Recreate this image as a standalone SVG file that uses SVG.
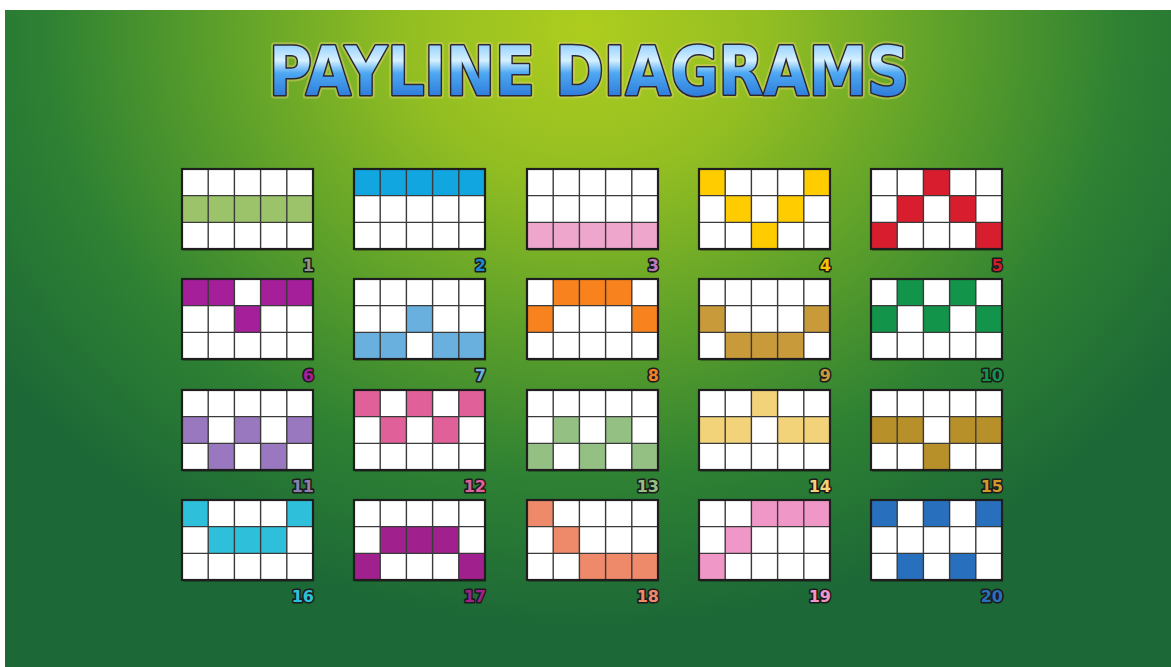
<svg xmlns="http://www.w3.org/2000/svg" xmlns:xlink="http://www.w3.org/1999/xlink" width="1171" height="667" viewBox="0 0 1171 667">
<defs>
<radialGradient id="bgG" gradientUnits="userSpaceOnUse" cx="585" cy="30" r="600" gradientTransform="translate(585 30) scale(1.2 1) translate(-585 -30)">
<stop offset="0" stop-color="#aecd1e"/>
<stop offset="0.25" stop-color="#93be22"/>
<stop offset="0.5" stop-color="#5ea12a"/>
<stop offset="0.75" stop-color="#2e8133"/>
<stop offset="1" stop-color="#1c6837"/>
</radialGradient>
<linearGradient id="titleG" x1="0" y1="0" x2="0" y2="1">
<stop offset="0" stop-color="#62b6ff"/>
<stop offset="0.36" stop-color="#d6f1ff"/>
<stop offset="0.52" stop-color="#4ea8f2"/>
<stop offset="1" stop-color="#1a60cc"/>
</linearGradient>
<g id="gl">
<path d="M26.2 0V80M52.4 0V80M78.6 0V80M104.8 0V80M0 26.67H131M0 53.33H131" fill="none" stroke="#3a3a3a" stroke-width="1.4"/>
<rect x="0" y="0" width="131" height="80" fill="none" stroke="#1e1e1e" stroke-width="2.2"/>
</g>
<rect id="sh" x="1" y="2" width="131" height="80" fill="#000" opacity="0.25"/>
</defs>
<style>
.bg{fill:#ffffff}
.lbl{font-family:"DejaVu Sans",Verdana,sans-serif;font-weight:bold;font-size:16px;text-anchor:end;stroke:#1c1c1c;stroke-width:3.2px;paint-order:stroke;stroke-linejoin:round}
</style>
<rect x="0" y="0" width="1171" height="667" fill="#ffffff"/>
<rect x="5" y="10" width="1166" height="657" fill="url(#bgG)"/>
<g id="title">
<text x="589" y="95" font-family="'DejaVu Sans Condensed','DejaVu Sans',sans-serif" font-weight="bold" font-size="68" text-anchor="middle" textLength="640" lengthAdjust="spacingAndGlyphs" fill="none" stroke="#d8cf6a" stroke-width="7" stroke-linejoin="round" opacity="0.5">PAYLINE DIAGRAMS</text>
<text x="589" y="95" font-family="'DejaVu Sans Condensed','DejaVu Sans',sans-serif" font-weight="bold" font-size="68" text-anchor="middle" textLength="640" lengthAdjust="spacingAndGlyphs" fill="url(#titleG)" stroke="#2a2634" stroke-width="3" stroke-linejoin="round" paint-order="stroke">PAYLINE DIAGRAMS</text>
</g>
<g id="connectors"/>
<g id="line1" transform="translate(182,169)"><use href="#sh"/><rect class="bg" width="131" height="80"/><g fill="#9dc36a"><rect x="0" y="26.67" width="131" height="26.67"/></g><use href="#gl"/><text class="lbl" x="132" y="102" fill="#8a9a80">1</text></g>
<g id="line2" transform="translate(354,169)"><use href="#sh"/><rect class="bg" width="131" height="80"/><g fill="#12a6e0"><rect x="0" y="0" width="131" height="26.67"/></g><use href="#gl"/><text class="lbl" x="132" y="102" fill="#1e8ad0">2</text></g>
<g id="line3" transform="translate(527,169)"><use href="#sh"/><rect class="bg" width="131" height="80"/><g fill="#eea6cc"><rect x="0" y="53.33" width="131" height="26.67"/></g><use href="#gl"/><text class="lbl" x="132" y="102" fill="#c07ab8">3</text></g>
<g id="line4" transform="translate(699,169)"><use href="#sh"/><rect class="bg" width="131" height="80"/><g fill="#ffcc00"><rect x="0" y="0" width="26.2" height="26.67"/><rect x="26.2" y="26.67" width="26.2" height="26.67"/><rect x="52.4" y="53.33" width="26.2" height="26.67"/><rect x="78.6" y="26.67" width="26.2" height="26.67"/><rect x="104.8" y="0" width="26.2" height="26.67"/></g><use href="#gl"/><text class="lbl" x="132" y="102" fill="#f2c400">4</text></g>
<g id="line5" transform="translate(871,169)"><use href="#sh"/><rect class="bg" width="131" height="80"/><g fill="#d81e2e"><rect x="0" y="53.33" width="26.2" height="26.67"/><rect x="26.2" y="26.67" width="26.2" height="26.67"/><rect x="52.4" y="0" width="26.2" height="26.67"/><rect x="78.6" y="26.67" width="26.2" height="26.67"/><rect x="104.8" y="53.33" width="26.2" height="26.67"/></g><use href="#gl"/><text class="lbl" x="132" y="102" fill="#d01e2a">5</text></g>
<g id="line6" transform="translate(182,279)"><use href="#sh"/><rect class="bg" width="131" height="80"/><g fill="#a51e9a"><rect x="0" y="0" width="52.4" height="26.67"/><rect x="52.4" y="26.67" width="26.2" height="26.67"/><rect x="78.6" y="0" width="52.4" height="26.67"/></g><use href="#gl"/><text class="lbl" x="132" y="102" fill="#a51e9a">6</text></g>
<g id="line7" transform="translate(354,279)"><use href="#sh"/><rect class="bg" width="131" height="80"/><g fill="#6ab0de"><rect x="0" y="53.33" width="52.4" height="26.67"/><rect x="52.4" y="26.67" width="26.2" height="26.67"/><rect x="78.6" y="53.33" width="52.4" height="26.67"/></g><use href="#gl"/><text class="lbl" x="132" y="102" fill="#6ab0de">7</text></g>
<g id="line8" transform="translate(527,279)"><use href="#sh"/><rect class="bg" width="131" height="80"/><g fill="#f7821e"><rect x="0" y="26.67" width="26.2" height="26.67"/><rect x="26.2" y="0" width="78.6" height="26.67"/><rect x="104.8" y="26.67" width="26.2" height="26.67"/></g><use href="#gl"/><text class="lbl" x="132" y="102" fill="#f0802a">8</text></g>
<g id="line9" transform="translate(699,279)"><use href="#sh"/><rect class="bg" width="131" height="80"/><g fill="#c89a3a"><rect x="0" y="26.67" width="26.2" height="26.67"/><rect x="26.2" y="53.33" width="78.6" height="26.67"/><rect x="104.8" y="26.67" width="26.2" height="26.67"/></g><use href="#gl"/><text class="lbl" x="132" y="102" fill="#c89a3a">9</text></g>
<g id="line10" transform="translate(871,279)"><use href="#sh"/><rect class="bg" width="131" height="80"/><g fill="#12944a"><rect x="0" y="26.67" width="26.2" height="26.67"/><rect x="26.2" y="0" width="26.2" height="26.67"/><rect x="52.4" y="26.67" width="26.2" height="26.67"/><rect x="78.6" y="0" width="26.2" height="26.67"/><rect x="104.8" y="26.67" width="26.2" height="26.67"/></g><use href="#gl"/><text class="lbl" x="132" y="102" fill="#12944a">10</text></g>
<g id="line11" transform="translate(182,390)"><use href="#sh"/><rect class="bg" width="131" height="80"/><g fill="#9a78c0"><rect x="0" y="26.67" width="26.2" height="26.67"/><rect x="26.2" y="53.33" width="26.2" height="26.67"/><rect x="52.4" y="26.67" width="26.2" height="26.67"/><rect x="78.6" y="53.33" width="26.2" height="26.67"/><rect x="104.8" y="26.67" width="26.2" height="26.67"/></g><use href="#gl"/><text class="lbl" x="132" y="102" fill="#8a80b0">11</text></g>
<g id="line12" transform="translate(354,390)"><use href="#sh"/><rect class="bg" width="131" height="80"/><g fill="#e0609a"><rect x="0" y="0" width="26.2" height="26.67"/><rect x="26.2" y="26.67" width="26.2" height="26.67"/><rect x="52.4" y="0" width="26.2" height="26.67"/><rect x="78.6" y="26.67" width="26.2" height="26.67"/><rect x="104.8" y="0" width="26.2" height="26.67"/></g><use href="#gl"/><text class="lbl" x="132" y="102" fill="#e0609a">12</text></g>
<g id="line13" transform="translate(527,390)"><use href="#sh"/><rect class="bg" width="131" height="80"/><g fill="#95c084"><rect x="0" y="53.33" width="26.2" height="26.67"/><rect x="26.2" y="26.67" width="26.2" height="26.67"/><rect x="52.4" y="53.33" width="26.2" height="26.67"/><rect x="78.6" y="26.67" width="26.2" height="26.67"/><rect x="104.8" y="53.33" width="26.2" height="26.67"/></g><use href="#gl"/><text class="lbl" x="132" y="102" fill="#95c084">13</text></g>
<g id="line14" transform="translate(699,390)"><use href="#sh"/><rect class="bg" width="131" height="80"/><g fill="#f2d37a"><rect x="0" y="26.67" width="52.4" height="26.67"/><rect x="52.4" y="0" width="26.2" height="26.67"/><rect x="78.6" y="26.67" width="52.4" height="26.67"/></g><use href="#gl"/><text class="lbl" x="132" y="102" fill="#f2d37a">14</text></g>
<g id="line15" transform="translate(871,390)"><use href="#sh"/><rect class="bg" width="131" height="80"/><g fill="#b8902a"><rect x="0" y="26.67" width="52.4" height="26.67"/><rect x="52.4" y="53.33" width="26.2" height="26.67"/><rect x="78.6" y="26.67" width="52.4" height="26.67"/></g><use href="#gl"/><text class="lbl" x="132" y="102" fill="#d09a2a">15</text></g>
<g id="line16" transform="translate(182,500)"><use href="#sh"/><rect class="bg" width="131" height="80"/><g fill="#2ec0da"><rect x="0" y="0" width="26.2" height="26.67"/><rect x="26.2" y="26.67" width="78.6" height="26.67"/><rect x="104.8" y="0" width="26.2" height="26.67"/></g><use href="#gl"/><text class="lbl" x="132" y="102" fill="#2ec0da">16</text></g>
<g id="line17" transform="translate(354,500)"><use href="#sh"/><rect class="bg" width="131" height="80"/><g fill="#a0208e"><rect x="0" y="53.33" width="26.2" height="26.67"/><rect x="26.2" y="26.67" width="78.6" height="26.67"/><rect x="104.8" y="53.33" width="26.2" height="26.67"/></g><use href="#gl"/><text class="lbl" x="132" y="102" fill="#a0208e">17</text></g>
<g id="line18" transform="translate(527,500)"><use href="#sh"/><rect class="bg" width="131" height="80"/><g fill="#ee8a6a"><rect x="0" y="0" width="26.2" height="26.67"/><rect x="26.2" y="26.67" width="26.2" height="26.67"/><rect x="52.4" y="53.33" width="78.6" height="26.67"/></g><use href="#gl"/><text class="lbl" x="132" y="102" fill="#ee8a6a">18</text></g>
<g id="line19" transform="translate(699,500)"><use href="#sh"/><rect class="bg" width="131" height="80"/><g fill="#ef98c8"><rect x="0" y="53.33" width="26.2" height="26.67"/><rect x="26.2" y="26.67" width="26.2" height="26.67"/><rect x="52.4" y="0" width="78.6" height="26.67"/></g><use href="#gl"/><text class="lbl" x="132" y="102" fill="#ef98c8">19</text></g>
<g id="line20" transform="translate(871,500)"><use href="#sh"/><rect class="bg" width="131" height="80"/><g fill="#2870be"><rect x="0" y="0" width="26.2" height="26.67"/><rect x="26.2" y="53.33" width="26.2" height="26.67"/><rect x="52.4" y="0" width="26.2" height="26.67"/><rect x="78.6" y="53.33" width="26.2" height="26.67"/><rect x="104.8" y="0" width="26.2" height="26.67"/></g><use href="#gl"/><text class="lbl" x="132" y="102" fill="#2870be">20</text></g>
</svg>
